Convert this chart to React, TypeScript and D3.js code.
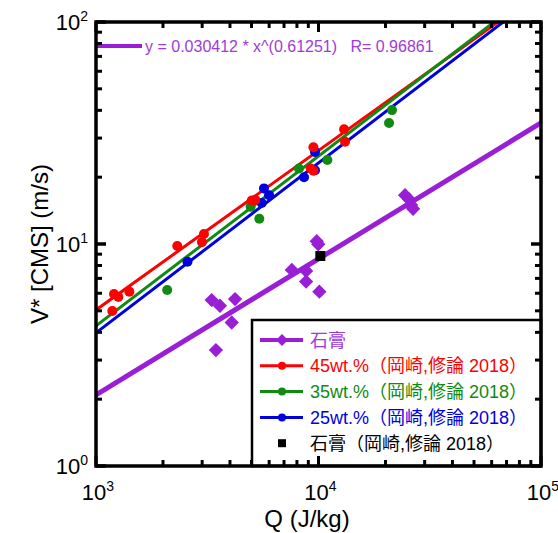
import React, { useEffect, useRef } from 'react';
import * as d3 from 'd3';

// data (Q in J/kg, V* in m/s)
const gypsumQ = [3311, 3606, 4217, 4074, 3459, 7586, 8796, 8796, 10090, 9817, 9976, 24490, 25530, 26070, 26620];
const gypsumV = [5.59, 5.27, 5.65, 4.43, 3.33, 7.64, 7.56, 6.77, 6.10, 10.3, 9.97, 16.6, 15.9, 15.0, 14.4];

const wt45Q = [1184, 1205, 1260, 1412, 2319, 2993, 3056, 5012, 5193, 9226, 9487, 9487, 13030, 13160];
const wt45V = [4.99, 5.95, 5.77, 6.10, 9.80, 10.2, 11.1, 15.7, 15.8, 21.9, 21.4, 27.3, 32.9, 28.9];

const wt35Q = [2089, 4955, 5420, 8166, 10960, 20750, 21400];
const wt35V = [6.21, 14.7, 13.0, 21.9, 23.9, 35.1, 40.1];

const wt25Q = [2577, 5689, 5995, 5557, 8611, 9646, 9646];
const wt25V = [8.32, 17.8, 16.6, 15.3, 20.0, 26.0, 21.5];

const okazakiQ = [10190];
const okazakiV = [8.83];

// power-law fits y = a * x^b
const fitNames = ['gypsum', 'wt45', 'wt35', 'wt25'];
const fitA = [0.030412, 0.0354, 0.02168, 0.02018];
const fitB = [0.61251, 0.718, 0.765, 0.765];

const legendLabels = ['石膏', '45wt.%（岡崎,修論 2018）', '35wt.%（岡崎,修論 2018）', '25wt.%（岡崎,修論 2018）', '石膏（岡崎,修論 2018）'];

const PURPLE = '#9a1ed6';
const RED = '#ff0000';
const GREEN = '#108a10';
const BLUE = '#0000dd';

const FONT = '"Liberation Sans", Arial, "Noto Sans CJK JP", sans-serif';

const App = () => {
  const ref = useRef();

  useEffect(() => {
    const svg = d3.select(ref.current);
    svg.selectAll('*').remove();

    const left = 96, right = 541, top = 22, bottom = 466;
    const x = d3.scaleLog().domain([1e3, 1e5]).range([left, right]);
    const y = d3.scaleLog().domain([1, 100]).range([bottom, top]);

    svg.append('defs').append('clipPath').attr('id', 'plotclip')
      .append('rect')
      .attr('x', left).attr('y', top)
      .attr('width', right - left).attr('height', bottom - top);

    const plot = svg.append('g').attr('clip-path', 'url(#plotclip)');

    // fit lines
    const colors = [PURPLE, RED, GREEN, BLUE];
    const widths = [5, 3, 3, 3];
    const line = d3.line().x(d => x(d[0])).y(d => y(d[1]));
    fitNames.forEach((n, i) => {
      const xs = [1e3, 1e5];
      plot.append('path')
        .attr('d', line(xs.map(q => [q, fitA[i] * Math.pow(q, fitB[i])])))
        .attr('fill', 'none')
        .attr('stroke', colors[i])
        .attr('stroke-width', widths[i]);
    });

    // circles
    const circles = (qs, vs, c) => {
      plot.append('g').selectAll('circle')
        .data(qs)
        .enter().append('circle')
        .attr('cx', d => x(d))
        .attr('cy', (d, i) => y(vs[i]))
        .attr('r', 5)
        .attr('fill', c);
    };
    circles(wt35Q, wt35V, GREEN);
    circles(wt25Q, wt25V, BLUE);
    circles(wt45Q, wt45V, RED);

    // diamonds
    const diamond = d3.symbol().type(d3.symbolDiamond2).size(130);
    plot.append('g').selectAll('path')
      .data(gypsumQ)
      .enter().append('path')
      .attr('d', diamond)
      .attr('transform', (d, i) => `translate(${x(d)},${y(gypsumV[i])})`)
      .attr('fill', PURPLE);

    plot.append('g').selectAll('rect')
      .data(okazakiQ)
      .enter().append('rect')
      .attr('x', d => x(d) - 5)
      .attr('y', (d, i) => y(okazakiV[i]) - 5)
      .attr('width', 10).attr('height', 10)
      .attr('fill', '#000');

    // equation annotation
    svg.append('line')
      .attr('x1', left).attr('x2', 142).attr('y1', 46).attr('y2', 46)
      .attr('stroke', PURPLE).attr('stroke-width', 4);
    svg.append('text')
      .attr('x', 145).attr('y', 52)
      .attr('fill', '#a03ad8')
      .style('font-family', FONT)
      .style('font-size', '16px')
      .attr('xml:space', 'preserve')
      .text('y = 0.030412 * x^(0.61251)   R= 0.96861');

    // legend
    const lg = svg.append('g');
    lg.append('rect')
      .attr('x', 252).attr('y', 320)
      .attr('width', right - 252).attr('height', bottom - 320)
      .attr('fill', '#fff').attr('stroke', '#000').attr('stroke-width', 2.5);
    const legColors = [PURPLE, RED, GREEN, BLUE, '#000'];
    legendLabels.forEach((lab, i) => {
      const yy = 340 + i * 25.8;
      if (i < 4) {
        lg.append('line')
          .attr('x1', 260).attr('x2', 303).attr('y1', yy).attr('y2', yy)
          .attr('stroke', legColors[i]).attr('stroke-width', i === 0 ? 4 : 3);
      }
      if (i === 0) {
        lg.append('path').attr('d', d3.symbol().type(d3.symbolDiamond2).size(90))
          .attr('transform', `translate(282,${yy})`).attr('fill', PURPLE);
      } else if (i < 4) {
        lg.append('circle').attr('cx', 282).attr('cy', yy).attr('r', 4).attr('fill', legColors[i]);
      } else {
        lg.append('rect').attr('x', 278).attr('y', yy - 4).attr('width', 8).attr('height', 8).attr('fill', '#000');
      }
      lg.append('text')
        .attr('x', 310).attr('y', yy + 6.5)
        .attr('fill', i === 0 ? '#a03ad8' : legColors[i])
        .style('font-family', FONT)
        .style('font-size', '18px')
        .text(lab);
    });

    // ticks on all four sides, inward
    const ax = svg.append('g');
    const majors = [1e3, 1e4, 1e5];
    const xMinor = [];
    for (let e = 3; e < 5; e++) for (let m = 2; m < 10; m++) xMinor.push(m * Math.pow(10, e));
    const yMinor = [];
    for (let e = 0; e < 2; e++) for (let m = 2; m < 10; m++) yMinor.push(m * Math.pow(10, e));
    const tick = (x1, y1, x2, y2, w) => ax.append('line')
      .attr('x1', x1).attr('y1', y1).attr('x2', x2).attr('y2', y2)
      .attr('stroke', '#000').attr('stroke-width', w);
    xMinor.forEach(q => { tick(x(q), bottom, x(q), bottom - 6, 3); tick(x(q), top, x(q), top + 6, 3); });
    majors.forEach(q => { tick(x(q), bottom, x(q), bottom - 10, 3); tick(x(q), top, x(q), top + 10, 3); });
    yMinor.forEach(v => { tick(left, y(v), left + 6, y(v), 3); tick(right, y(v), right - 6, y(v), 3); });
    [1, 10, 100].forEach(v => { tick(left, y(v), left + 10, y(v), 3.5); tick(right, y(v), right - 10, y(v), 3.5); });

    ax.append('rect')
      .attr('x', left).attr('y', top)
      .attr('width', right - left).attr('height', bottom - top)
      .attr('fill', 'none').attr('stroke', '#000').attr('stroke-width', 3.5);

    // tick labels
    const lab = svg.append('g').style('font-family', FONT).attr('fill', '#000');
    [3, 4, 5].forEach(e => {
      const t = lab.append('text')
        .attr('x', x(Math.pow(10, e)) + 2).attr('y', 500)
        .attr('text-anchor', 'middle')
        .style('font-size', '22px');
      t.append('tspan').text('10');
      t.append('tspan').attr('dy', -9).style('font-size', '14px').text(e);
    });
    [0, 1, 2].forEach(e => {
      const t = lab.append('text')
        .attr('x', left - 8).attr('y', y(Math.pow(10, e)) + 8)
        .attr('text-anchor', 'end')
        .style('font-size', '22px');
      t.append('tspan').text('10');
      t.append('tspan').attr('dy', -9).style('font-size', '14px').text(e);
    });

    lab.append('text')
      .attr('x', 307).attr('y', 527)
      .attr('text-anchor', 'middle')
      .style('font-size', '24px')
      .text('Q (J/kg)');
    lab.append('text')
      .attr('transform', `translate(48,${(top + bottom) / 2}) rotate(-90)`)
      .attr('text-anchor', 'middle')
      .style('font-size', '24px')
      .text('V* [CMS] (m/s)');
  }, []);

  return (
    <svg ref={ref} width={558} height={533}
      style={{ position: 'absolute', left: 0, top: 0, background: '#fff' }} />
  );
};

export default App;
